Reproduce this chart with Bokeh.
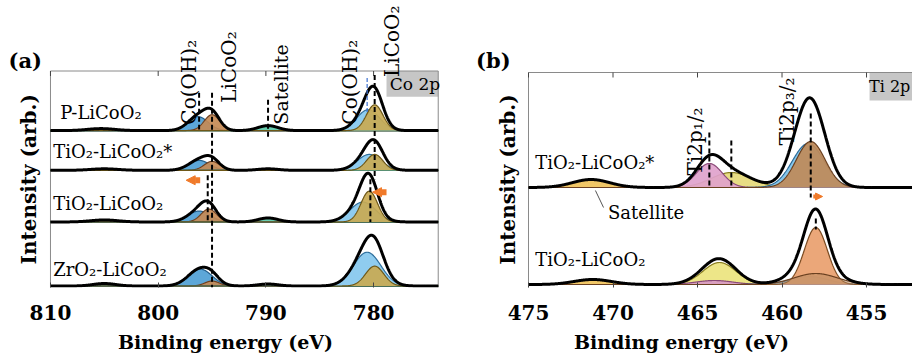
import numpy as np
from bokeh.plotting import figure
from bokeh.layouts import row
from bokeh.models import Range1d, Label, Arrow, NormalHead, FixedTicker
from bokeh.embed import file_html
from bokeh.resources import INLINE

# ---------------- data: panel (a) Co 2p (peak fits) ----------------
co_samples = ["P-LiCoO₂", "TiO₂-LiCoO₂*", "TiO₂-LiCoO₂", "ZrO₂-LiCoO₂"]
co_components = ["sat805", "CoOH_2p12", "LiCoO2_2p12", "sat790", "CoOH_2p32", "LiCoO2_2p32"]
# centre (eV), height (arb.), FWHM (eV) for every sample, component order as above
co_centers_P = [805.3, 796.3, 795.0, 789.8, 780.5, 779.9]
co_heights_P = [2.0, 14.0, 16.0, 5.0, 21.0, 26.0]
co_fwhm_P = [3.0, 2.2, 1.7, 2.2, 2.5, 1.8]

co_centers_Tstar = [805.0, 796.2, 795.0, 789.8, 780.4, 779.9]
co_heights_Tstar = [1.5, 10.0, 9.0, 1.5, 16.0, 16.0]
co_fwhm_Tstar = [3.0, 2.3, 1.7, 2.2, 2.6, 1.8]

co_centers_T = [805.0, 796.2, 795.3, 789.8, 781.0, 780.4]
co_heights_T = [2.0, 11.0, 13.0, 4.0, 20.0, 31.0]
co_fwhm_T = [3.0, 2.4, 1.7, 2.2, 2.8, 1.8]

co_centers_Z = [805.0, 796.1, 795.0, 789.8, 780.6, 779.9]
co_heights_Z = [2.5, 17.0, 5.0, 2.0, 34.0, 20.0]
co_fwhm_Z = [2.5, 2.6, 1.6, 2.2, 3.0, 2.0]

co_ticks = [810, 800, 790, 780]

# ---------------- data: panel (b) Ti 2p ----------------
ti_samples = ["TiO₂-LiCoO₂*", "TiO₂-LiCoO₂"]
ti_components_1 = ["satellite", "Ti2p12_b", "Ti2p12_a", "Ti2p32_b", "Ti2p32_a"]
ti_centers_1 = [471.3, 463.0, 464.3, 458.45, 458.3]
ti_heights_1 = [8.0, 15.0, 24.0, 44.0, 46.0]
ti_fwhm_1 = [2.6, 2.8, 1.8, 2.2, 2.0]

ti_components_2 = ["satellite", "Ti2p12_b", "Ti2p12_a", "Ti2p32_b", "Ti2p32_a", "Ti2p32_c"]
ti_centers_2 = [471.2, 463.7, 464.0, 458.4, 458.0, 458.0]
ti_heights_2 = [5.0, 22.0, 4.0, 8.0, 57.0, 11.0]
ti_fwhm_2 = [2.6, 2.3, 2.6, 2.6, 1.6, 3.0]

ti_ticks = [475, 470, 465, 460, 455]

# ---------------- styles ----------------
SERIF = "DejaVu Serif"
FRAME = "#8a8a8a"
ORANGE_ARROW = "#f07a2a"
co_colors = {
    "sat805": ("#e2d478", "#8a7a20"),
    "CoOH_2p12": ("#4fa0d5", "#245f8c"),
    "LiCoO2_2p12": ("#c58a55", "#6e4020"),
    "sat790": ("#5cc9a8", "#22775c"),
    "CoOH_2p32": ("#86c8ee", "#2f6f9c"),
    "LiCoO2_2p32": ("#c9aa52", "#6e5818"),
}
ti_colors_1 = {
    "satellite": ("#f0c25a", "#8a6a10"),
    "Ti2p12_b": ("#e6da7a", "#8a7f20"),
    "Ti2p12_a": ("#e0a2cc", "#8a4a78"),
    "Ti2p32_b": ("#7cc2ea", "#2a6a98"),
    "Ti2p32_a": ("#c08a58", "#6a4020"),
}
ti_colors_2 = {
    "satellite": ("#f0c25a", "#8a6a10"),
    "Ti2p12_b": ("#ece47e", "#8a7f20"),
    "Ti2p12_a": ("#d89ac4", "#8a4a78"),
    "Ti2p32_b": ("#7cc2ea", "#2a6a98"),
    "Ti2p32_a": ("#eaa272", "#7a4a20"),
    "Ti2p32_c": ("#b88a60", "#6a4020"),
}


def gauss(x, c, h, w):
    s = w / 2.3548
    return h * np.exp(-0.5 * ((x - c) / s) ** 2)


def style_fig(p, ticks):
    p.xaxis.ticker = FixedTicker(ticks=ticks)
    p.xaxis.major_tick_in = 5
    p.xaxis.major_tick_out = 0
    p.xaxis.minor_tick_line_color = None
    p.xaxis.axis_line_color = None
    p.xaxis.major_tick_line_color = "#444444"
    p.xaxis.major_label_text_font = SERIF
    p.xaxis.major_label_text_font_style = "bold"
    p.xaxis.major_label_text_font_size = "20px"
    p.xaxis.major_label_text_color = "black"
    p.xaxis.major_label_standoff = 17
    p.xaxis.axis_label = "Binding energy (eV)"
    p.xaxis.axis_label_text_font = SERIF
    p.xaxis.axis_label_text_font_style = "bold"
    p.xaxis.axis_label_text_font_size = "19px"
    p.xaxis.axis_label_text_color = "black"
    p.xaxis.axis_label_standoff = 8
    p.xgrid.grid_line_color = None
    p.ygrid.grid_line_color = None
    p.outline_line_color = None
    p.background_fill_color = "white"
    p.border_fill_color = "white"


def draw_frame(p, x0, x1, top, ticks, right_side=True):
    p.segment(x0=[x0, x0], y0=[0, top], x1=[x0, x1], y1=[top, top], line_color=FRAME, line_width=1)
    if right_side:
        p.segment(x0=[x1], y0=[0], x1=[x1], y1=[top], line_color=FRAME, line_width=1)
    p.segment(x0=ticks, y0=[top] * len(ticks), x1=ticks, y1=[top - 5] * len(ticks),
              line_color="#444444", line_width=1)


def draw_row(p, x, base, names, centers, heights, fwhms, colors, alphas=None):
    total = np.zeros_like(x)
    for i, (n, c, h, w) in enumerate(zip(names, centers, heights, fwhms)):
        g = gauss(x, c, h, w)
        total += g
        fc, lc = colors[n]
        a = 0.92 if alphas is None else alphas[i]
        p.varea(x=x, y1=np.full_like(x, base), y2=base + g, fill_color=fc, fill_alpha=a)
        p.line(x, base + g, line_color=lc, line_width=1.2)
    p.line(x, base + total, line_color="black", line_width=3)


def text_label(p, x, y, t, size="18px", angle=0.0, align="left", baseline="middle",
               bold=False, color="black"):
    p.add_layout(Label(x=x, y=y, text=t, angle=angle, text_align=align,
                       text_baseline=baseline, text_font=SERIF, text_font_size=size,
                       text_font_style="bold" if bold else "normal", text_color=color))


# ================= panel (a) =================
pa = figure(width=450, height=359, output_backend="svg", toolbar_location=None,
            x_range=Range1d(814.64, 772.86), y_range=Range1d(0, 289),
            y_axis_location=None,
            min_border_left=0, min_border_right=0, min_border_top=0, min_border_bottom=70)
style_fig(pa, co_ticks)

xa = np.linspace(774, 810, 1441)
co_bases = [158, 118, 66, 1.5]
co_sets = [(co_centers_P, co_heights_P, co_fwhm_P),
           (co_centers_Tstar, co_heights_Tstar, co_fwhm_Tstar),
           (co_centers_T, co_heights_T, co_fwhm_T),
           (co_centers_Z, co_heights_Z, co_fwhm_Z)]

pa.quad(left=[778.8], right=[774], top=[218], bottom=[192], fill_color="#c6c6c6", line_color=None)
text_label(pa, 778.5, 205, "Co 2p", size="17px")
draw_frame(pa, 810, 774, 218, co_ticks)

for base, (cs, hs, ws) in zip(co_bases, co_sets):
    draw_row(pa, xa, base, co_components, cs, hs, ws, co_colors)

# reference lines
pa.segment(x0=[795.0, 796.2, 789.8, 779.9, 780.3, 795.4],
           y0=[196, 196, 189, 214, 109, 113],
           x1=[795.0, 796.2, 789.8, 779.9, 780.3, 795.4],
           y1=[0, 159, 151, 109, 66, 66],
           line_color="black", line_width=2, line_dash="5 3")
pa.segment(x0=[780.6], y0=[211], x1=[780.6], y1=[176], line_color="#3a6fd0",
           line_width=1.2, line_dash="4 2")

for xs, xe, y in [(796.1, 797.4, 108), (778.8, 780.1, 96)]:
    pa.add_layout(Arrow(end=NormalHead(size=9, fill_color=ORANGE_ARROW, line_color=ORANGE_ARROW),
                        x_start=xs, y_start=y, x_end=xe, y_end=y,
                        line_color=ORANGE_ARROW, line_width=6))

co_label_y = [176, 137, 85, 18]
for lab, y in zip(co_samples, co_label_y):
    text_label(pa, 809.1 if lab.startswith("P") else 809.75, y, lab)

text_label(pa, 797.1, 164, "Co(OH)₂", size="20px", angle=np.pi / 2)
text_label(pa, 793.4, 186, "LiCoO₂", size="20px", angle=np.pi / 2)
text_label(pa, 788.6, 164, "Satellite", size="19px", angle=np.pi / 2)
text_label(pa, 782.2, 164, "Co(OH)₂", size="20px", angle=np.pi / 2)
text_label(pa, 778.3, 212, "LiCoO₂", size="20px", angle=np.pi / 2)
text_label(pa, 813.9, 229, "(a)", size="21px", bold=True)
text_label(pa, 812.0, 109, "Intensity (arb.)", size="20px", angle=np.pi / 2,
           align="center", bold=True)

# ================= panel (b) =================
pb = figure(width=462, height=359, output_backend="svg", toolbar_location=None,
            x_range=Range1d(479.615, 452.28), y_range=Range1d(0, 287),
            y_axis_location=None,
            min_border_left=0, min_border_right=0, min_border_top=0, min_border_bottom=72)
style_fig(pb, ti_ticks)

xb = np.linspace(452.2, 475, 1141)
pb.quad(left=[454.82], right=[452.28], top=[215], bottom=[187], fill_color="#c6c6c6", line_color=None)
text_label(pb, 454.85, 201, "Ti 2p", size="16px")
draw_frame(pb, 475, 452.28, 215, ti_ticks, right_side=False)

draw_row(pb, xb, 100, ti_components_1, ti_centers_1, ti_heights_1, ti_fwhm_1, ti_colors_1)
draw_row(pb, xb, 3, ti_components_2, ti_centers_2, ti_heights_2, ti_fwhm_2, ti_colors_2,
         alphas=[0.92, 0.92, 0.92, 0.92, 0.95, 0.55])

pb.segment(x0=[458.3, 464.3, 463.0, 458.0], y0=[174, 155, 147, 69],
           x1=[458.3, 464.3, 463.0, 458.0], y1=[90, 100, 100, 58],
           line_color="black", line_width=2, line_dash="5 3")
pb.add_layout(Arrow(end=NormalHead(size=7, fill_color=ORANGE_ARROW, line_color=ORANGE_ARROW),
                    x_start=458.15, y_start=91, x_end=457.6, y_end=91,
                    line_color=ORANGE_ARROW, line_width=4))

pb.segment(x0=[470.56], y0=[80], x1=[471.04], y1=[97], line_color="#555555", line_width=1)
text_label(pb, 470.3, 75, "Satellite")
text_label(pb, 474.6, 125, ti_samples[0])
text_label(pb, 474.6, 28, ti_samples[1])
text_label(pb, 465.15, 112, "Ti2p₁/₂", size="20px", angle=np.pi / 2)
text_label(pb, 459.7, 142, "Ti2p₃/₂", size="20px", angle=np.pi / 2)
text_label(pb, 478.1, 227, "(b)", size="21px", bold=True)
text_label(pb, 476.2, 108, "Intensity (arb.)", size="20px", angle=np.pi / 2,
           align="center", bold=True)

layout = row(pa, pb)
open("out.html", "w").write(file_html(layout, INLINE))
